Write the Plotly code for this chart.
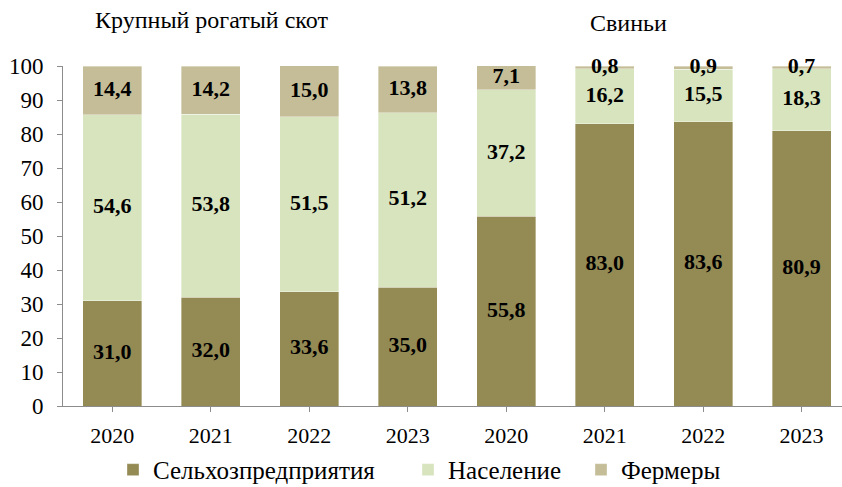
import plotly.graph_objects as go

CATEGORIES = ["2020", "2021", "2022", "2023", "2020", "2021", "2022", "2023"]
AGRO = [31.0, 32.0, 33.6, 35.0, 55.8, 83.0, 83.6, 80.9]
POPULATION = [54.6, 53.8, 51.5, 51.2, 37.2, 16.2, 15.5, 18.3]
FARMERS = [14.4, 14.2, 15.0, 13.8, 7.1, 0.8, 0.9, 0.7]

SERIES = [
    ("Сельхозпредприятия", AGRO, "#948A54", "legend", 152),
    ("Население", POPULATION, "#D7E4BD", "legend2", 447),
    ("Фермеры", FARMERS, "#C4BD97", "legend3", 620),
]

FONT = "Liberation Serif"
PLOT_L, PLOT_W = 63, 779

x_idx = list(range(len(CATEGORIES)))

fig = go.Figure()
base = [0.0] * len(CATEGORIES)
legends = {}
for name, vals, colour, leg, text_x in SERIES:
    fig.add_trace(go.Bar(
        x=x_idx, y=vals, name=name,
        marker=dict(color=colour, line=dict(color="rgba(255,255,255,0.6)", width=0.6)),
        width=0.6,
        hoverinfo="skip",
        legend=leg,
    ))
    legends[leg] = dict(
        orientation="h", x=(text_x - 39 - PLOT_L) / PLOT_W, xanchor="left",
        y=-0.188, yanchor="middle", itemwidth=30,
        font=dict(family=FONT, size=25), bgcolor="rgba(0,0,0,0)",
    )
    # labels in the middle of each segment
    mids = [b + v / 2 for b, v in zip(base, vals)]
    fig.add_trace(go.Scatter(
        x=x_idx, y=mids, mode="text",
        text=[f"{v:.1f}".replace(".", ",") for v in vals],
        textfont=dict(family=FONT, size=22, color="black", weight="bold"),
        showlegend=False, hoverinfo="skip", cliponaxis=False,
    ))
    base = [b + v for b, v in zip(base, vals)]

fig.update_layout(
    barmode="stack",
    width=842, height=487,
    plot_bgcolor="white", paper_bgcolor="white",
    font=dict(family=FONT, size=22, color="black"),
    margin=dict(l=PLOT_L, r=0, t=66, b=81, autoexpand=False),
    annotations=[
        dict(text="Крупный рогатый скот", xref="paper", yref="paper",
             x=(211 - PLOT_L) / PLOT_W, y=1.135, showarrow=False,
             font=dict(family=FONT, size=24), xanchor="center", yanchor="middle"),
        dict(text="Свиньи", xref="paper", yref="paper",
             x=(628 - PLOT_L) / PLOT_W, y=1.126, showarrow=False,
             font=dict(family=FONT, size=24), xanchor="center", yanchor="middle"),
    ],
    **legends,
)

fig.update_xaxes(
    tickmode="array", tickvals=x_idx, ticktext=CATEGORIES,
    range=[-0.5, 7.41], automargin=False,
    tickfont=dict(family=FONT, size=22), ticklabelstandoff=5,
    showline=True, linecolor="#8C8C8C", linewidth=1,
    ticks="outside", tickson="boundaries", ticklen=5, tickcolor="#8C8C8C",
    showgrid=False, zeroline=False,
)
fig.update_yaxes(
    range=[0, 100], dtick=10, automargin=False,
    tickfont=dict(family=FONT, size=23), ticklabelstandoff=9,
    showline=True, linecolor="#8C8C8C", linewidth=1,
    ticks="outside", ticklen=5, tickcolor="#8C8C8C",
    showgrid=False, zeroline=False,
)

# drop the default page margin so the figure sits at the window's corner
fig.write_html("out.html", config={"displayModeBar": False},
               post_script="document.body.style.margin='0';")
